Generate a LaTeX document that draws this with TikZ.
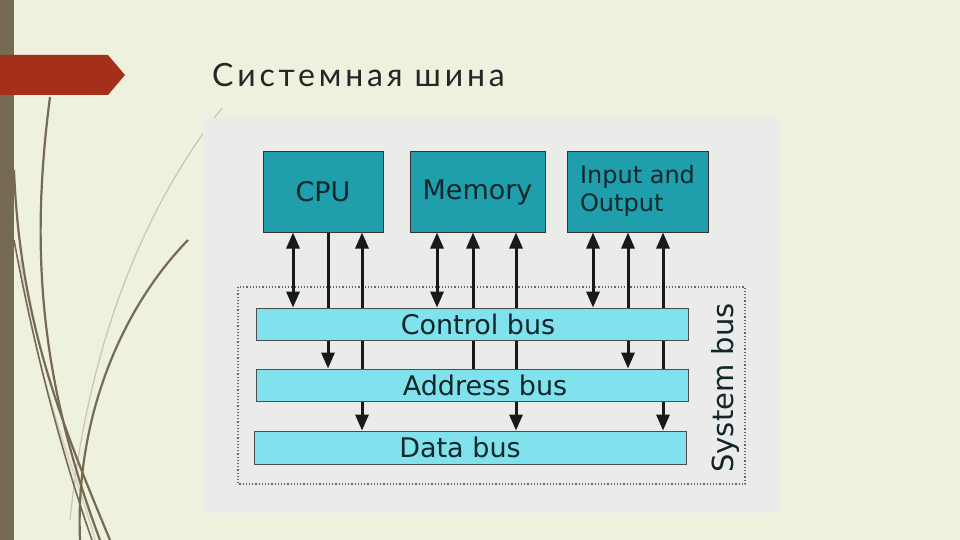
\documentclass[tikz,border=0pt]{standalone}
\usepackage{fontspec}
\setmainfont{DejaVu Sans}
\newfontfamily\titlefont[LetterSpace=12]{Lato}
\usetikzlibrary{arrows.meta}
\pgfdeclarelayer{bottom}
\pgfdeclarelayer{mid}
\pgfsetlayers{bottom,mid,main}
\definecolor{bgc}{HTML}{EEF1DE}
\definecolor{olive}{HTML}{766B52}
\definecolor{banner}{HTML}{A5301A}
\definecolor{panel}{HTML}{EBEBEA}
\definecolor{teal}{HTML}{1F9EAB}
\definecolor{busc}{HTML}{80E2EC}
\definecolor{txt}{HTML}{10262B}
\tikzset{
 unit/.style={draw=black!80, line width=1pt, fill=teal, text=txt, font=\fontsize{27}{30}\selectfont},
 busbox/.style={draw=black!70, line width=0.8pt, fill=busc, text=txt, font=\fontsize{27}{30}\selectfont},
 link/.style={line width=3pt, draw=black!90},
 two/.style={link, {Triangle[length=16pt,width=13pt]}-{Triangle[length=16pt,width=13pt]}},
 down/.style={link, -{Triangle[length=16pt,width=13pt]}},
 stem/.style={olive, line width=2.2pt},
}
\begin{document}
\begin{tikzpicture}[x=1pt,y=-1pt]
\useasboundingbox (0,0) rectangle (960,540);
\begin{pgfonlayer}{bottom}
\fill[bgc] (0,0) rectangle (960,540);
\draw[olive!40, line width=1.2pt] (70,520) .. controls (90,330) and (150,200) .. (222,108);
\draw[olive!30, line width=1.6pt] (20,260) .. controls (40,400) and (80,480) .. (95,540);
\draw[stem] (100,540) .. controls (40,380) and (30,250) .. (50,97);
\draw[stem] (110,540) .. controls (60,420) and (20,320) .. (14,170);
\draw[stem] (80,540) .. controls (75,420) and (120,310) .. (188,240);
\draw[stem, line width=1.6pt] (92,540) .. controls (50,420) and (25,300) .. (14,240);
\fill[olive] (0,0) rectangle (14,540);
\fill[banner] (0,55) -- (108,55) -- (125,75) -- (108,95) -- (0,95) -- cycle;
\fill[panel] (203,118) rectangle (780,513);
\draw[dotted, line width=1.2pt, black!60] (238,287) rectangle (745,484);
\end{pgfonlayer}
\node[anchor=base west, inner sep=0pt, font=\titlefont\fontsize{32}{34}\selectfont, text=black!85] (title) at (212,87) {Системная шина};
\node[unit, minimum width=120pt, minimum height=80pt] (cpu) at (323,192) {\raisebox{-3pt}{CPU}};
\node[unit, minimum width=135pt, minimum height=80pt] (mem) at (477.5,192) {\raisebox{2pt}{Memory}};
\node[unit, minimum width=141pt, minimum height=80pt, align=left, font=\fontsize{24}{28}\selectfont] (io) at (637.5,192) {Input and\\Output\rule[-8pt]{0pt}{1pt}};
\node[busbox, minimum width=432pt, minimum height=32pt] (cb) at (472,324) {\hspace{12pt}Control bus};
\node[busbox, minimum width=432pt, minimum height=32pt] (ab) at (472,385) {\hspace{26pt}Address bus};
\node[busbox, minimum width=432pt, minimum height=33pt] (db) at (470,447.5) {\hspace{-20pt}Data bus};
\node[rotate=90, font=\fontsize{29}{32}\selectfont, text=txt] (sys) at (725,388) {System bus};
\begin{pgfonlayer}{mid}
\draw[two] (cpu.south -| 293,0) -- (cb.north -| 293,0);
\draw[down] (cpu.south -| 328,0) -- (ab.north -| 328,0);
\draw[two] (cpu.south -| 362,0) -- (db.north -| 362,0);
\draw[two] (mem.south -| 437,0) -- (cb.north -| 437,0);
\draw[down] (ab.north -| 473,0) -- (mem.south -| 473,0);
\draw[two] (mem.south -| 516,0) -- (db.north -| 516,0);
\draw[two] (io.south -| 593,0) -- (cb.north -| 593,0);
\draw[two] (io.south -| 628,0) -- (ab.north -| 628,0);
\draw[two] (io.south -| 663,0) -- (db.north -| 663,0);
\end{pgfonlayer}
\end{tikzpicture}
\end{document}
